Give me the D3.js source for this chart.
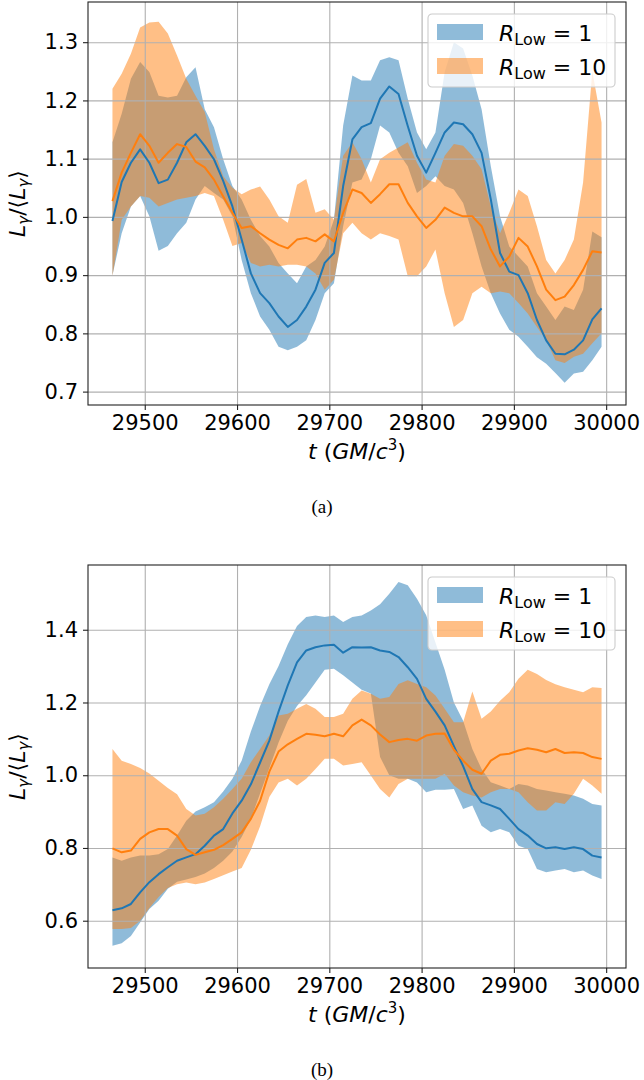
<!DOCTYPE html>
<html>
<head>
<meta charset="utf-8">
<script src="https://cdn.jsdelivr.net/npm/d3@7"></script>
<style>
  body { margin: 0; background: #fff; }
  svg text { font-family: "DejaVu Sans", sans-serif; fill: #000; }
</style>
</head>
<body>
<div class="container"></div>
<script>
// sample times (GM/c^3)
var time = [29465, 29475, 29485, 29495, 29505, 29515, 29525, 29535, 29545, 29555,
    29565, 29575, 29585, 29595, 29605, 29615, 29625, 29635, 29645, 29655,
    29665, 29675, 29685, 29695, 29705, 29715, 29725, 29735, 29745, 29755,
    29765, 29775, 29785, 29795, 29805, 29815, 29825, 29835, 29845, 29855,
    29865, 29875, 29885, 29895, 29905, 29915, 29925, 29935, 29945, 29955,
    29965, 29975, 29985, 29995];

// panel (a), R_Low = 1
var lowOneA = [0.993, 1.060, 1.093, 1.116, 1.093, 1.058, 1.064, 1.093, 1.128, 1.142,
    1.122, 1.099, 1.062, 1.018, 0.961, 0.903, 0.869, 0.852, 0.829, 0.811,
    0.823, 0.846, 0.875, 0.921, 0.938, 1.053, 1.133, 1.154, 1.161, 1.203,
    1.224, 1.211, 1.156, 1.105, 1.076, 1.110, 1.145, 1.162, 1.159, 1.142,
    1.110, 1.030, 0.938, 0.906, 0.900, 0.869, 0.823, 0.788, 0.765, 0.764,
    0.772, 0.788, 0.824, 0.843];
var lowOneLoA = [0.900, 0.972, 1.018, 1.036, 1.001, 0.942, 0.950, 0.972, 0.990, 1.030,
    1.053, 1.041, 1.030, 1.001, 0.926, 0.869, 0.829, 0.806, 0.777, 0.771,
    0.777, 0.788, 0.823, 0.869, 0.886, 0.984, 1.059, 1.064, 1.099, 1.157,
    1.145, 1.110, 1.087, 1.041, 1.053, 1.070, 1.053, 1.047, 1.024, 0.972,
    0.915, 0.869, 0.834, 0.806, 0.794, 0.777, 0.759, 0.748, 0.732, 0.715,
    0.731, 0.734, 0.754, 0.777];
var lowOneHiA = [1.128, 1.177, 1.237, 1.266, 1.249, 1.208, 1.205, 1.208, 1.240, 1.257,
    1.185, 1.154, 1.099, 1.053, 1.030, 0.995, 0.967, 0.949, 0.921, 0.903,
    0.886, 0.915, 0.926, 0.949, 0.995, 1.157, 1.243, 1.234, 1.234, 1.269,
    1.274, 1.269, 1.203, 1.145, 1.116, 1.145, 1.249, 1.300, 1.289, 1.243,
    1.185, 1.087, 1.001, 0.949, 0.932, 0.915, 0.869, 0.846, 0.823, 0.846,
    0.840, 0.875, 0.975, 0.965];

// panel (a), R_Low = 10
var lowTenA = [1.027, 1.076, 1.110, 1.142, 1.122, 1.093, 1.110, 1.125, 1.120, 1.095,
    1.085, 1.064, 1.035, 1.007, 0.981, 0.984, 0.972, 0.961, 0.952, 0.946,
    0.961, 0.964, 0.958, 0.970, 0.958, 1.007, 1.047, 1.041, 1.024, 1.039,
    1.056, 1.056, 1.024, 1.001, 0.981, 0.995, 1.016, 1.007, 1.001, 1.001,
    0.984, 0.944, 0.915, 0.932, 0.964, 0.949, 0.915, 0.875, 0.857, 0.863,
    0.883, 0.909, 0.941, 0.939];
var lowTenLoA = [0.898, 0.995, 1.018, 1.036, 1.033, 1.018, 1.024, 1.030, 1.033, 1.036,
    1.041, 1.036, 0.995, 0.950, 0.955, 0.921, 0.915, 0.918, 0.915, 0.918,
    0.918, 0.915, 0.903, 0.875, 0.892, 0.972, 0.990, 0.972, 0.961, 0.972,
    0.967, 0.961, 0.898, 0.898, 0.915, 0.944, 0.869, 0.811, 0.823, 0.869,
    0.880, 0.869, 0.872, 0.869, 0.852, 0.834, 0.811, 0.788, 0.754, 0.749,
    0.760, 0.765, 0.783, 0.800];
var lowTenHiA = [1.220, 1.246, 1.280, 1.325, 1.334, 1.335, 1.315, 1.277, 1.237, 1.208,
    1.180, 1.116, 1.070, 1.050, 1.039, 1.047, 1.052, 1.030, 1.001, 0.990,
    1.055, 1.065, 1.007, 1.013, 0.995, 1.105, 1.128, 1.099, 1.059, 1.099,
    1.110, 1.119, 1.128, 1.093, 1.064, 1.059, 1.105, 1.125, 1.122, 1.105,
    1.082, 1.018, 0.972, 1.007, 1.047, 1.036, 0.984, 0.926, 0.903, 0.926,
    0.961, 1.059, 1.250, 1.162];

// panel (b), R_Low = 1
var lowOneB = [0.629, 0.634, 0.646, 0.678, 0.706, 0.728, 0.747, 0.765, 0.774, 0.783,
    0.806, 0.834, 0.852, 0.895, 0.930, 0.975, 1.035, 1.095, 1.175, 1.247,
    1.310, 1.343, 1.352, 1.357, 1.359, 1.337, 1.352, 1.351, 1.352, 1.343,
    1.339, 1.325, 1.297, 1.265, 1.210, 1.175, 1.137, 1.080, 1.025, 0.962,
    0.926, 0.917, 0.907, 0.880, 0.852, 0.834, 0.811, 0.799, 0.802, 0.797,
    0.802, 0.797, 0.779, 0.774];
var lowOneLoB = [0.531, 0.538, 0.558, 0.595, 0.632, 0.655, 0.688, 0.707, 0.713, 0.720,
    0.730, 0.745, 0.765, 0.790, 0.830, 0.880, 0.950, 1.020, 1.090, 1.150,
    1.190, 1.220, 1.255, 1.290, 1.293, 1.275, 1.255, 1.235, 1.225, 1.050,
    1.000, 0.990, 0.990, 0.980, 0.953, 0.960, 0.960, 0.962, 0.907, 0.917,
    0.861, 0.843, 0.852, 0.843, 0.806, 0.797, 0.742, 0.733, 0.738, 0.742,
    0.733, 0.738, 0.724, 0.715];
var lowOneHiB = [0.774, 0.765, 0.774, 0.779, 0.779, 0.783, 0.797, 0.834, 0.875, 0.900,
    0.912, 0.926, 0.955, 0.990, 1.040, 1.120, 1.190, 1.250, 1.300, 1.360,
    1.410, 1.435, 1.439, 1.435, 1.439, 1.421, 1.435, 1.439, 1.453, 1.470,
    1.499, 1.531, 1.522, 1.485, 1.440, 1.365, 1.290, 1.200, 1.150, 1.072,
    1.017, 0.981, 0.972, 0.962, 0.976, 0.972, 0.962, 0.958, 0.953, 0.949,
    0.944, 0.935, 0.921, 0.917];

// panel (b), R_Low = 10
var lowTenB = [0.799, 0.788, 0.793, 0.825, 0.843, 0.852, 0.852, 0.834, 0.797, 0.781,
    0.788, 0.795, 0.808, 0.825, 0.843, 0.880, 0.930, 1.010, 1.065, 1.085,
    1.100, 1.114, 1.111, 1.107, 1.114, 1.107, 1.137, 1.153, 1.137, 1.112,
    1.091, 1.097, 1.100, 1.095, 1.109, 1.114, 1.115, 1.070, 1.040, 1.015,
    1.004, 1.040, 1.056, 1.059, 1.068, 1.074, 1.070, 1.063, 1.072, 1.061,
    1.063, 1.061, 1.050, 1.045];
var lowTenLoB = [0.577, 0.577, 0.580, 0.600, 0.635, 0.665, 0.690, 0.700, 0.705, 0.700,
    0.705, 0.715, 0.725, 0.735, 0.745, 0.795, 0.860, 0.940, 0.980, 0.990,
    0.972, 0.990, 1.017, 1.045, 1.045, 1.027, 1.031, 1.036, 0.999, 0.962,
    0.939, 0.976, 0.990, 0.990, 0.990, 0.990, 1.004, 0.972, 0.953, 0.944,
    0.939, 0.953, 0.962, 0.962, 0.953, 0.926, 0.903, 0.903, 0.926, 0.921,
    0.949, 0.990, 0.972, 0.949];
var lowTenHiB = [1.072, 1.040, 1.031, 1.020, 1.005, 0.985, 0.965, 0.948, 0.907, 0.889,
    0.894, 0.912, 0.935, 0.962, 0.990, 1.036, 1.072, 1.109, 1.164, 1.169,
    1.183, 1.196, 1.183, 1.160, 1.160, 1.169, 1.210, 1.233, 1.224, 1.210,
    1.215, 1.251, 1.261, 1.251, 1.242, 1.219, 1.183, 1.146, 1.146, 1.230,
    1.155, 1.175, 1.205, 1.228, 1.265, 1.290, 1.278, 1.262, 1.250, 1.242,
    1.235, 1.228, 1.242, 1.240];

var legendValues = ['1', '10'];
var colors = ['#1f77b4', '#ff7f0e'];
var xTicks = [29500, 29600, 29700, 29800, 29900, 30000];
var yTicksA = [0.7, 0.8, 0.9, 1.0, 1.1, 1.2, 1.3];
var yTicksB = [0.6, 0.8, 1.0, 1.2, 1.4];
var xLimits = [29438.5, 30021.5];
var yLimitsA = [0.677, 1.369];
var yLimitsB = [0.470, 1.578];

var LEFT = 88, RIGHT = 626;
var FONT = 21;

var translate = (x, y) => `translate(${ x },${ y })`;

var svg = d3.select('.container').append('svg')
    .attr('width', 644)
    .attr('height', 1080);

var drawPanel = (svg, {top, bottom, yLimits, yTicks, series, caption}) => {
    var x = d3.scaleLinear().domain(xLimits).range([LEFT, RIGHT]);
    var y = d3.scaleLinear().domain(yLimits).range([bottom, top]);
    var g = svg.append('g');

    // shaded bands
    series.forEach((s, i) => {
        var band = d3.area()
            .x((d, j) => x(time[j]))
            .y0((d, j) => y(s.lo[j]))
            .y1((d, j) => y(s.hi[j]));
        g.append('path')
            .attr('d', band(time))
            .attr('fill', colors[i])
            .attr('fill-opacity', 0.5);
    });

    // grid (above fills, below lines)
    g.append('g')
        .attr('transform', translate(0, bottom))
        .call(d3.axisBottom(x).tickValues(xTicks).tickSize(-(bottom - top)).tickFormat(''))
        .call(a => a.select('.domain').remove())
        .selectAll('line').attr('stroke', '#b0b0b0').attr('stroke-width', 1.1);
    g.append('g')
        .attr('transform', translate(LEFT, 0))
        .call(d3.axisLeft(y).tickValues(yTicks).tickSize(-(RIGHT - LEFT)).tickFormat(''))
        .call(a => a.select('.domain').remove())
        .selectAll('line').attr('stroke', '#b0b0b0').attr('stroke-width', 1.1);

    // median lines
    series.forEach((s, i) => {
        var line = d3.line()
            .x((d, j) => x(time[j]))
            .y(d => y(d));
        g.append('path')
            .attr('d', line(s.mid))
            .attr('fill', 'none')
            .attr('stroke', colors[i])
            .attr('stroke-width', 2)
            .attr('stroke-linejoin', 'round');
    });

    // axes
    var xAxis = g.append('g')
        .attr('transform', translate(0, bottom))
        .call(d3.axisBottom(x).tickValues(xTicks).tickSize(5).tickPadding(5).tickFormat(d3.format('d')));
    var yAxis = g.append('g')
        .attr('transform', translate(LEFT, 0))
        .call(d3.axisLeft(y).tickValues(yTicks).tickSize(5).tickPadding(5).tickFormat(d3.format('.1f')));
    [xAxis, yAxis].forEach(a => {
        a.select('.domain').remove();
        a.attr('font-family', null).attr('font-size', null);
        a.selectAll('line').attr('stroke', '#222').attr('stroke-width', 1.1);
        a.selectAll('text').style('font-size', FONT + 'px').attr('fill', '#000');
    });

    // spines
    g.append('rect')
        .attr('x', LEFT).attr('y', top)
        .attr('width', RIGHT - LEFT).attr('height', bottom - top)
        .attr('fill', 'none').attr('stroke', '#222').attr('stroke-width', 1.1);

    // legend
    var lg = g.append('g').attr('transform', translate(428, top + 12));
    lg.append('rect')
        .attr('width', 187).attr('height', 73).attr('rx', 4)
        .attr('fill', '#fff').attr('fill-opacity', 0.8)
        .attr('stroke', '#cccccc').attr('stroke-width', 1.1);
    legendValues.forEach((v, i) => {
        var row = lg.append('g').attr('transform', translate(0, 10 + i * 34));
        row.append('rect')
            .attr('x', 9).attr('width', 46).attr('height', 16)
            .attr('fill', colors[i]).attr('fill-opacity', 0.5);
        var t = row.append('text').attr('x', 71).attr('y', 17).style('font-size', '22px');
        t.append('tspan').attr('font-style', 'italic').text('R');
        t.append('tspan').attr('dy', 4).style('font-size', '16px').text('Low');
        t.append('tspan').attr('dy', -4).text(' = ' + v);
    });

    // y label
    var yl = g.append('text')
        .attr('transform', translate(25, (top + bottom) / 2) + ' rotate(-90)')
        .attr('text-anchor', 'middle')
        .style('font-size', '22px');
    yl.append('tspan').attr('font-style', 'italic').text('L');
    yl.append('tspan').attr('font-style', 'italic').attr('dy', 4).style('font-size', '15px').text('γ');
    yl.append('tspan').attr('dy', -4).text('/⟨');
    yl.append('tspan').attr('font-style', 'italic').text('L');
    yl.append('tspan').attr('font-style', 'italic').attr('dy', 4).style('font-size', '15px').text('γ');
    yl.append('tspan').attr('dy', -4).text('⟩');

    // x label
    var xl = g.append('text')
        .attr('x', (LEFT + RIGHT) / 2).attr('y', bottom + 54)
        .attr('text-anchor', 'middle')
        .style('font-size', '22px');
    xl.append('tspan').attr('font-style', 'italic').text('t');
    xl.append('tspan').text(' (');
    xl.append('tspan').attr('font-style', 'italic').text('GM');
    xl.append('tspan').text('/');
    xl.append('tspan').attr('font-style', 'italic').text('c');
    xl.append('tspan').attr('dy', -9).style('font-size', '15px').text('3');
    xl.append('tspan').attr('dy', 9).text(')');

    // caption
    g.append('text')
        .attr('x', 322).attr('y', bottom + 108)
        .attr('text-anchor', 'middle')
        .style('font-family', '"Liberation Serif", "DejaVu Serif", serif')
        .style('font-size', '19px')
        .text(caption);
};

drawPanel(svg, {
    top: 2, bottom: 405, yLimits: yLimitsA, yTicks: yTicksA, caption: '(a)',
    series: [
        {mid: lowOneA, lo: lowOneLoA, hi: lowOneHiA},
        {mid: lowTenA, lo: lowTenLoA, hi: lowTenHiA}
    ]
});

drawPanel(svg, {
    top: 565, bottom: 968, yLimits: yLimitsB, yTicks: yTicksB, caption: '(b)',
    series: [
        {mid: lowOneB, lo: lowOneLoB, hi: lowOneHiB},
        {mid: lowTenB, lo: lowTenLoB, hi: lowTenHiB}
    ]
});
</script>
</body>
</html>
